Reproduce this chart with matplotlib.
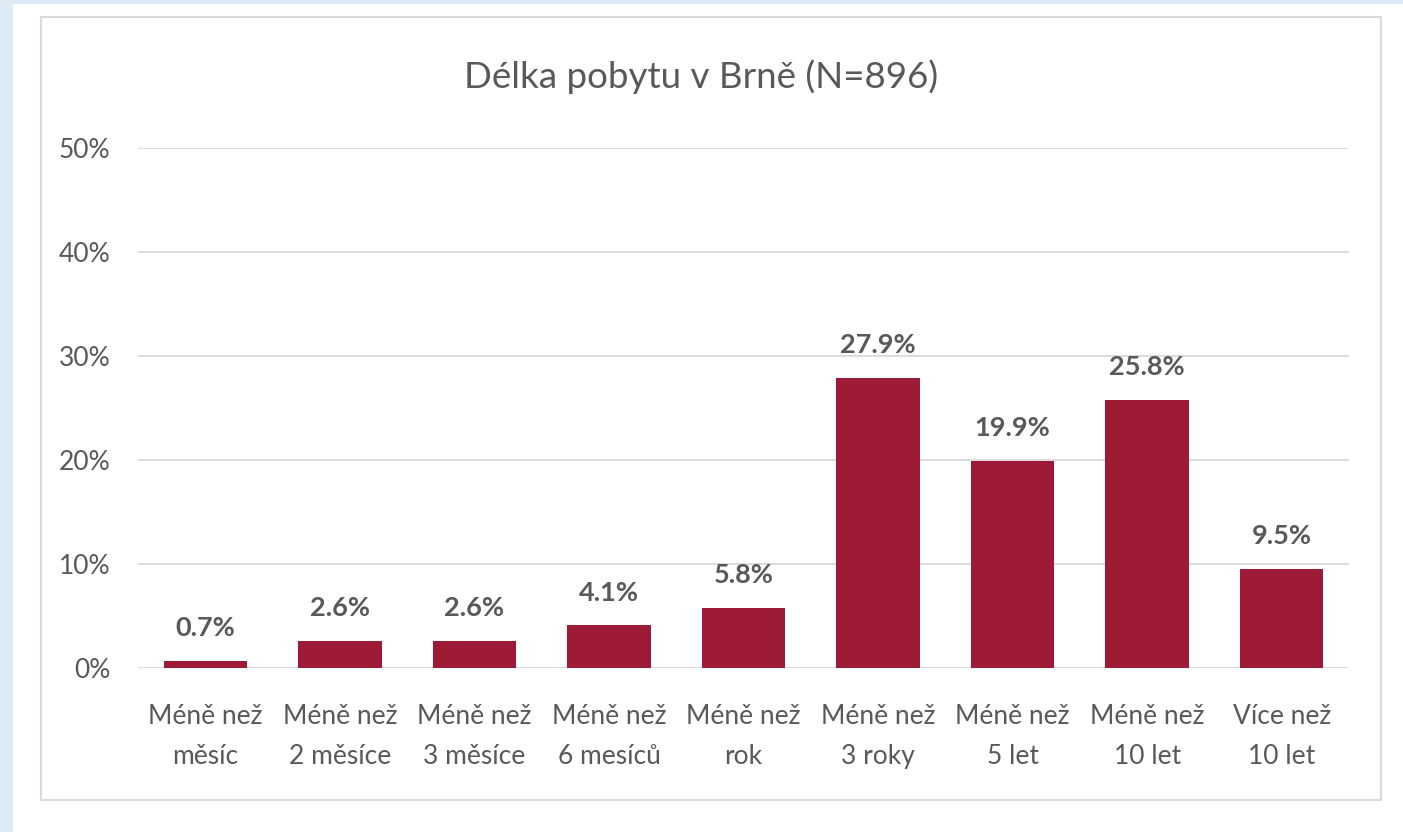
import matplotlib.pyplot as plt
from matplotlib.patches import Rectangle

categories = ['Méně než\nměsíc', 'Méně než\n2 měsíce', 'Méně než\n3 měsíce', 'Méně než\n6 mesíců',
              'Méně než\nrok', 'Méně než\n3 roky', 'Méně než\n5 let', 'Méně než\n10 let', 'Více než\n10 let']
values = [0.7, 2.6, 2.6, 4.1, 5.8, 27.9, 19.9, 25.8, 9.5]
yticks = [0, 10, 20, 30, 40, 50]

plt.rcParams['font.family'] = ['Lato', 'DejaVu Sans']
W, H = 1403, 832
fig = plt.figure(figsize=(W / 100, H / 100), dpi=100)

# background: light blue strips on the left and top, framed white chart area
fig.patches.append(Rectangle((0, 0), 13 / W, 1, transform=fig.transFigure,
                             facecolor='#dde9f4', edgecolor='none', zorder=0))
fig.patches.append(Rectangle((0, 1 - 4 / H), 1, 4 / H, transform=fig.transFigure,
                             facecolor='#dde9f4', edgecolor='none', zorder=0))
fig.patches.append(Rectangle((41 / W, 1 - 800 / H), (1381 - 41) / W, (800 - 17) / H,
                             transform=fig.transFigure, facecolor='white',
                             edgecolor='#d9d9d9', linewidth=1.5, zorder=0))

ax = fig.add_axes([138 / W, 1 - 668 / H, (1349 - 138) / W, (668 - 148) / H])
ax.set_zorder(2)
ax.set_facecolor('none')
x = range(len(categories))
ax.bar(x, values, width=0.62, color='#9e1b38', zorder=3)
ax.set_xlim(-0.5, len(categories) - 0.5)
ax.set_ylim(0, 50)
ax.set_yticks(yticks)
ax.set_yticklabels([f'{t}%' for t in yticks])
ax.set_xticks(list(x))
ax.set_xticklabels(categories, linespacing=1.75)
ax.grid(axis='y', color='#d9d9d9', linewidth=1.3, zorder=0)
for s in ax.spines.values():
    s.set_visible(False)
ax.tick_params(length=0, labelsize=19, colors='#595959')
ax.tick_params(axis='y', pad=20)
ax.tick_params(axis='x', pad=26)

for i, v in enumerate(values):
    ax.text(i, v + 2.0, f'{v:.1f}%', ha='center', va='bottom', fontsize=19.5,
            fontweight='bold', color='#595959')

fig.text(0.5, 1 - 77 / H, 'Délka pobytu v Brně (N=896)', ha='center', va='center',
         fontsize=26.5, color='#595959')

fig.savefig('out.png', dpi=100)
